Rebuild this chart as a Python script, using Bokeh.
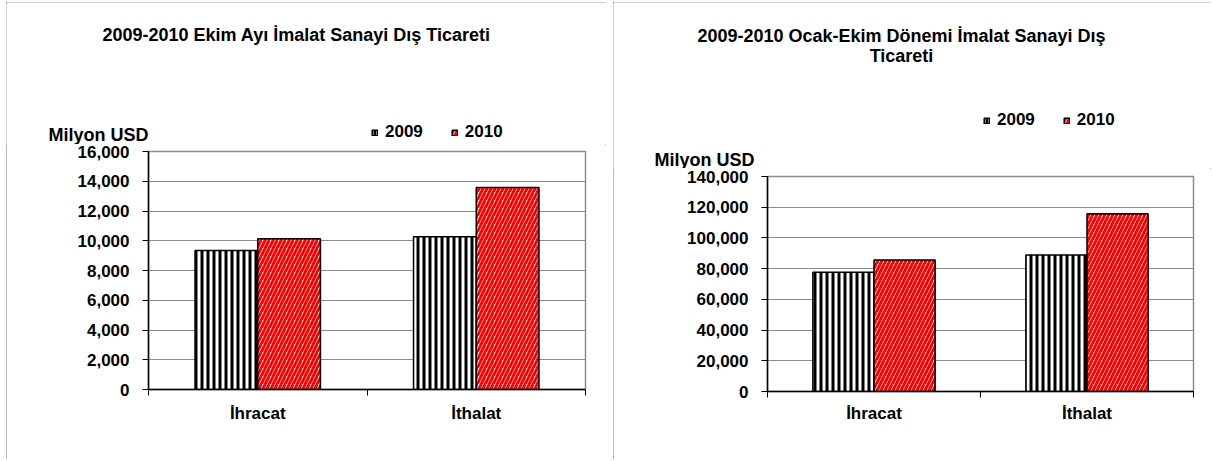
from bokeh.plotting import figure
from bokeh.models import (ColumnDataSource, Range1d, FixedTicker, SingleIntervalTicker,
                          NumeralTickFormatter, Label, Legend, LegendItem, Spacer)
from bokeh.layouts import row, column
from bokeh.transform import dodge
from bokeh.embed import file_html
from bokeh.resources import INLINE

categories = ["İhracat", "İthalat"]
ekim_2009 = [9350, 10270]
ekim_2010 = [10140, 13580]
ocak_ekim_2009 = [77600, 88900]
ocak_ekim_2010 = [85700, 115700]
series_names = ["2009", "2010"]
unit_label = "Milyon USD"

FONT = "Liberation Sans"
FS = "17px"
FS_TITLE = "18px"
BAR_W = 0.287

STYLE_09 = dict(fill_color="white", line_color="black", line_width=1.5,
                hatch_pattern="|", hatch_color="black", hatch_weight=3, hatch_scale=6)
STYLE_10 = dict(fill_color="white", line_color="black", line_width=1.5,
                hatch_pattern="/", hatch_color="#ff0000", hatch_weight=3, hatch_scale=8)


def text_label(p, x, y, text, align, size):
    p.add_layout(Label(x=x, y=y, text=text, text_align=align, text_baseline="middle",
                       text_font=FONT, text_font_style="bold", text_font_size=size,
                       text_color="black"))


def make_header(width, height, title_lines, title_x, title_ys, unit_xy, legend_xy):
    # header area: frame covers the whole figure, y grows downward (pixel-like units)
    h = figure(width=width, height=height, output_backend="svg", toolbar_location=None,
               title_location=None, x_range=Range1d(0, width), y_range=Range1d(height, 0),
               x_axis_type=None, y_axis_type=None, min_border=0, frame_align=False,
               background_fill_color="white", border_fill_color="white")
    h.xgrid.visible = False
    h.ygrid.visible = False
    h.outline_line_color = None
    for line, ty in zip(title_lines, title_ys):
        text_label(h, title_x, ty, line, "center", FS_TITLE)
    text_label(h, unit_xy[0], unit_xy[1], unit_label, "left", FS_TITLE)
    # legend-only renderers, kept outside the visible x range
    key_src = ColumnDataSource(dict(x=[-width], top=[0]))
    d09 = h.vbar(x="x", top="top", width=1, source=key_src, **STYLE_09)
    d10 = h.vbar(x="x", top="top", width=1, source=key_src, **STYLE_10)
    lx, ly = legend_xy
    legend = Legend(items=[LegendItem(label=series_names[0], renderers=[d09]),
                           LegendItem(label=series_names[1], renderers=[d10])],
                    orientation="horizontal", location=(lx, height - ly - 8),
                    glyph_width=7, glyph_height=7, label_standoff=7, spacing=28,
                    label_height=16, padding=0, margin=0,
                    border_line_color=None, background_fill_alpha=0,
                    label_text_font=FONT, label_text_font_style="bold",
                    label_text_font_size=FS, label_text_color="black")
    h.add_layout(legend, "center")
    return h


def make_chart(width, height, border_left, border_top, frame_w, frame_h,
               vals09, vals10, ymax, yinterval, x_standoff):
    p = figure(width=width, height=height, output_backend="svg", toolbar_location=None,
               title_location=None, frame_align=False,
               x_range=Range1d(0, len(categories)), y_range=Range1d(0, ymax),
               min_border_left=border_left, min_border_top=border_top,
               min_border_right=width - border_left - frame_w,
               min_border_bottom=height - border_top - frame_h,
               frame_width=frame_w, frame_height=frame_h,
               background_fill_color="white", border_fill_color="white")
    xs = [i + 0.5 for i in range(len(categories))]
    src = ColumnDataSource(dict(x=xs, v09=vals09, v10=vals10))
    p.vbar(x=dodge("x", -BAR_W / 2, range=p.x_range), top="v09", width=BAR_W,
           source=src, **STYLE_09)
    p.vbar(x=dodge("x", BAR_W / 2, range=p.x_range), top="v10", width=BAR_W,
           source=src, **STYLE_10)

    xa = p.xaxis[0]
    xa.ticker = FixedTicker(ticks=xs, minor_ticks=list(range(len(categories) + 1)))
    xa.major_label_overrides = {x: c for x, c in zip(xs, categories)}
    xa.major_tick_line_color = None
    xa.major_tick_out = 0
    xa.major_tick_in = 0
    xa.minor_tick_line_color = "black"
    xa.minor_tick_out = 6
    xa.minor_tick_in = 0
    xa.axis_line_color = "black"
    xa.axis_line_width = 1.5
    xa.major_label_standoff = x_standoff
    xa.major_label_text_font = FONT
    xa.major_label_text_font_style = "bold"
    xa.major_label_text_font_size = FS
    xa.major_label_text_color = "black"

    ya = p.yaxis[0]
    ya.ticker = SingleIntervalTicker(interval=yinterval, num_minor_ticks=0)
    ya.formatter = NumeralTickFormatter(format="0,0")
    ya.major_tick_out = 6
    ya.major_tick_in = 0
    ya.major_tick_line_color = "black"
    ya.minor_tick_line_color = None
    ya.axis_line_color = "black"
    ya.axis_line_width = 1.5
    ya.major_label_standoff = 13
    ya.major_label_text_font = FONT
    ya.major_label_text_font_style = "bold"
    ya.major_label_text_font_size = FS
    ya.major_label_text_color = "black"

    p.xgrid.grid_line_color = None
    p.ygrid.grid_line_color = "#8c8c8c"
    p.ygrid.grid_line_width = 1.2
    p.outline_line_color = "#8c8c8c"
    p.outline_line_width = 1.5
    return p


PANEL_STYLE = {"outline": "1px solid #a6a6a6", "outline-offset": "-1px"}

# left panel (abs): x 6..606, y 2..459 ; frame x 148..585, y 151..389
h1 = make_header(600, 142, ["2009-2010 Ekim Ayı İmalat Sanayi Dış Ticareti"], 296 - 6,
                 [34 - 2], (48 - 6, 134 - 2), (371 - 6, 134 - 2))
p1 = make_chart(600, 315, 142, 7, 437, 238, ekim_2009, ekim_2010, 16000, 2000, 8)
panel1 = column(h1, p1, spacing=0, styles=PANEL_STYLE)

# right panel (abs): x 613..1211, y 2..459 ; frame x 767..1193, y 176..391
h2 = make_header(598, 166, ["2009-2010 Ocak-Ekim Dönemi İmalat Sanayi Dış", "Ticareti"],
                 901 - 613, [35 - 2, 55 - 2], (654 - 613, 159 - 2), (983 - 613, 122 - 2))
p2 = make_chart(598, 291, 154, 8, 426, 215, ocak_ekim_2009, ocak_ekim_2010,
                140000, 20000, 6)
panel2 = column(h2, p2, spacing=0, styles=PANEL_STYLE)

layout = column(Spacer(height=2),
                row(Spacer(width=6), panel1, Spacer(width=7), panel2, spacing=0),
                spacing=0)
open("out.html", "w").write(file_html(layout, INLINE))
